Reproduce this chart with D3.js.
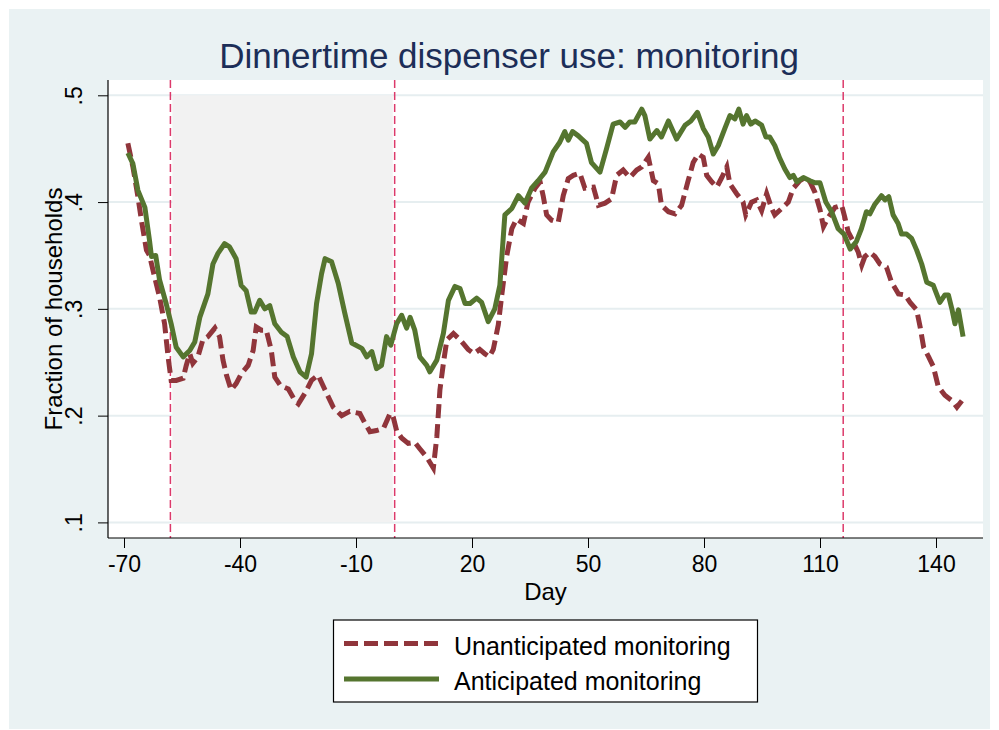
<!DOCTYPE html>
<html>
<head>
<meta charset="utf-8">
<script src="https://cdn.jsdelivr.net/npm/d3@7"></script>
<style>
  html, body { margin: 0; padding: 0; background: #ffffff; }
  svg { display: block; font-family: "Liberation Sans", Arial, Helvetica, sans-serif; }
</style>
</head>
<body>
<div id="chart"></div>
<script>
// values (day, fraction of households)
const unaDays = [-69, -67.7, -66.4, -65.5, -64.2, -63.4, -62.1, -60.8, -59.5, -58.6, -57.8, -56.5, -54.7, -53.9, -53, -52.2, -50.9, -49.6, -48.3, -46.5, -45.3, -44.4, -43.5, -42.3, -41, -39.7, -37.9, -36.6, -35.8, -34.5, -33.2, -31.9, -31, -29.5, -27.5, -25.8, -24.9, -23.2, -21.5, -19.8, -18, -15.9, -13.7, -11.6, -9, -7.7, -6.4, -4.7, -2.9, -1.2, -0.4, 0.5, 1.8, 3.5, 5.2, 6.5, 8.3, 10, 10.9, 11.7, 12.6, 13.5, 15.2, 16.9, 19, 20.5, 22, 23.3, 24.5, 25.5, 26.8, 27.7, 29, 30.3, 31.5, 33.3, 34.5, 36.3, 37.6, 38.4, 39.3, 40.6, 42.3, 43.6, 44.9, 46.2, 47.9, 49.2, 51.4, 52.7, 54.4, 56.1, 57.4, 59.1, 60.8, 62.6, 63.9, 65.6, 66.9, 68.2, 69, 70.8, 72.5, 74.2, 75.9, 77.2, 78.5, 79.8, 80.7, 82, 83.3, 84.6, 85.9, 86.7, 88.4, 90.1, 90.8, 92.3, 93.6, 94.9, 96.2, 97.5, 98.3, 100.1, 101.8, 103.1, 104.8, 106.1, 107.4, 108.7, 110, 110.9, 112.2, 113.9, 115.6, 116.4, 117.3, 118.6, 119.9, 120.8, 121.6, 122.9, 124.2, 125.5, 127.2, 128.5, 130.3, 132, 133.3, 135, 135.9, 136.8, 138.1, 139.3, 140.6, 142.3, 144.1, 145.4, 146.7];
const unaVals = [.455, .433, .405, .383, .355, .350, .330, .311, .286, .255, .233, .233, .235, .247, .258, .249, .255, .271, .274, .282, .274, .252, .238, .224, .230, .239, .247, .261, .283, .280, .280, .261, .236, .228, .225, .214, .211, .221, .233, .238, .224, .208, .200, .204, .202, .193, .185, .186, .188, .202, .199, .186, .179, .174, .175, .169, .161, .151, .180, .224, .249, .271, .277, .271, .262, .258, .262, .258, .255, .262, .285, .313, .350, .375, .384, .380, .400, .413, .419, .406, .388, .383, .381, .406, .422, .425, .427, .413, .414, .397, .399, .403, .425, .430, .423, .430, .433, .442, .420, .417, .397, .391, .389, .397, .420, .437, .445, .442, .425, .419, .414, .423, .433, .417, .408, .400, .388, .400, .402, .392, .408, .394, .388, .394, .400, .413, .420, .423, .419, .409, .393, .377, .386, .395, .397, .386, .372, .363, .353, .341, .349, .353, .349, .342, .339, .325, .314, .313, .306, .299, .283, .264, .255, .246, .227, .219, .214, .208, .214];

const antDays = [-69, -67.7, -66.4, -64.6, -63.4, -62.9, -61.8, -60.8, -59.1, -57.8, -56.5, -54.7, -53, -51.7, -50.4, -48.3, -47, -45.7, -44, -42.7, -41, -39.7, -38.4, -37.1, -36.2, -34.9, -33.6, -32.3, -31, -29.3, -27.8, -26.2, -24.5, -22.9, -21.5, -20.2, -18.9, -18, -16.3, -14.6, -12.9, -11.1, -8.5, -7.2, -5.9, -4.7, -3.4, -2.1, -1, 0.5, 1.8, 3.1, 4, 5.2, 6.5, 8.3, 9.1, 10.9, 12.6, 13.9, 15.6, 16.9, 18.2, 19.5, 21.2, 22.5, 24.2, 25.9, 27.2, 28.5, 30.3, 32, 33.7, 35.4, 37.1, 38.9, 41, 42.7, 44, 44.9, 46, 47.5, 48.4, 49.6, 50.9, 53.1, 54.8, 56.5, 58.3, 59.6, 60.8, 62.1, 63.9, 64.7, 66, 67.8, 69, 70.8, 72.9, 75.1, 76.6, 78.3, 79.8, 81.1, 82.4, 83.7, 85.4, 86.7, 88, 89, 90.1, 91, 92.1, 93.2, 94.9, 96, 97, 98.3, 99.6, 100.9, 102.2, 103.1, 104, 105.7, 107.4, 108.7, 110, 111.5, 113, 114.7, 116.2, 117.8, 119.4, 120.7, 122, 122.9, 124.2, 125.9, 126.8, 127.8, 128.9, 130.2, 131.1, 132.4, 133.7, 135, 136.3, 137.6, 139.3, 141, 142.3, 143.2, 144.1, 144.9, 145.8, 147];
const antVals = [.446, .436, .411, .395, .364, .349, .350, .327, .305, .286, .264, .255, .261, .269, .292, .314, .342, .352, .361, .358, .347, .322, .317, .297, .297, .308, .300, .303, .286, .278, .274, .255, .241, .236, .258, .305, .333, .347, .344, .324, .296, .268, .263, .255, .260, .244, .247, .274, .266, .286, .294, .282, .292, .280, .255, .247, .241, .252, .277, .308, .321, .319, .305, .305, .310, .306, .288, .300, .322, .388, .394, .406, .399, .413, .420, .428, .447, .456, .466, .458, .466, .462, .459, .455, .437, .428, .450, .473, .475, .470, .475, .475, .487, .481, .459, .467, .461, .476, .459, .472, .476, .484, .469, .461, .445, .453, .469, .481, .478, .487, .473, .481, .473, .476, .472, .461, .461, .453, .441, .431, .423, .425, .419, .423, .420, .418, .418, .400, .391, .375, .370, .356, .363, .375, .391, .389, .398, .406, .402, .405, .388, .380, .370, .370, .366, .355, .342, .325, .322, .306, .313, .313, .300, .286, .299, .274];

const xTicks = [-70, -40, -10, 20, 50, 80, 110, 140];
const yTicks = [0.1, 0.2, 0.3, 0.4, 0.5];
const yTickLabels = [".1", ".2", ".3", ".4", ".5"];
const eventDays = [-58, 0, 116];
const shadeDays = [-57.5, -0.5];
const shadeVals = [0.1, 0.5];
const seriesNames = ["Unanticipated monitoring", "Anticipated monitoring"];

const W = 999, H = 730;
const pLeft = 108, pRight = 983, pTop = 80, pBottom = 538;

const svg = d3.select('#chart').append('svg')
  .attr('width', W).attr('height', H);

// outer panel
svg.append('rect').attr('x', 9).attr('y', 9).attr('width', 981).attr('height', 720)
  .attr('fill', '#eaf2f3');
svg.append('rect').attr('x', pLeft).attr('y', pTop).attr('width', pRight - pLeft).attr('height', pBottom - pTop)
  .attr('fill', '#ffffff');

const x = d3.scaleLinear().domain([-70, 140]).range([124, 936]);
const y = d3.scaleLinear().domain([0.1, 0.5]).range([522.4, 95.3]);

// grid
svg.append('g').selectAll('line').data(yTicks).enter().append('line')
  .attr('x1', pLeft).attr('x2', pRight)
  .attr('y1', d => y(d)).attr('y2', d => y(d))
  .attr('stroke', '#e6eef0').attr('stroke-width', 2);

// shaded pre-period
svg.append('rect')
  .attr('x', x(shadeDays[0])).attr('width', x(shadeDays[1]) - x(shadeDays[0]))
  .attr('y', y(shadeVals[1])).attr('height', y(shadeVals[0]) - y(shadeVals[1]))
  .attr('fill', '#f2f2f2');

// event lines
svg.append('g').selectAll('line').data(eventDays).enter().append('line')
  .attr('x1', d => x(d)).attr('x2', d => x(d))
  .attr('y1', pTop).attr('y2', pBottom)
  .attr('stroke', '#dc3a6b').attr('stroke-width', 1.5)
  .attr('stroke-dasharray', '8,4');

const line = d3.line().x(d => x(d[0])).y(d => y(d[1]));

svg.append('path')
  .datum(unaDays.map((d, i) => [d, unaVals[i]]))
  .attr('fill', 'none').attr('stroke', '#90353b').attr('stroke-width', 5)
  .attr('stroke-dasharray', '14,6')
  .attr('d', line);

svg.append('path')
  .datum(antDays.map((d, i) => [d, antVals[i]]))
  .attr('fill', 'none').attr('stroke', '#55752f').attr('stroke-width', 5)
  .attr('stroke-linejoin', 'round')
  .attr('d', line);

// axes
const xAxis = svg.append('g')
  .attr('transform', `translate(0,${pBottom})`)
  .call(d3.axisBottom(x).tickValues(xTicks).tickSize(10).tickPadding(8).tickSizeOuter(0)
    .tickFormat(d => String(d)));
xAxis.select('.domain').remove();
xAxis.selectAll('line').attr('stroke', '#000');
xAxis.selectAll('text').attr('fill', '#000').style('font-size', '23px')
  .style('font-family', '"Liberation Sans", Arial, sans-serif');

const yAxis = svg.append('g')
  .attr('transform', `translate(${pLeft},0)`)
  .call(d3.axisLeft(y).tickValues(yTicks).tickSize(10).tickFormat((d, i) => yTickLabels[i]));
yAxis.select('.domain').remove();
yAxis.selectAll('line').attr('stroke', '#000');
yAxis.selectAll('text')
  .attr('transform', 'rotate(-90)')
  .attr('x', 0).attr('y', -26).attr('dy', 0)
  .attr('fill', '#000')
  .style('text-anchor', 'middle')
  .style('font-size', '23px')
  .style('font-family', '"Liberation Sans", Arial, sans-serif');

svg.append('line').attr('x1', pLeft).attr('x2', pLeft).attr('y1', pTop).attr('y2', pBottom)
  .attr('stroke', '#000').attr('stroke-width', 1.2);
svg.append('line').attr('x1', pLeft).attr('x2', pRight).attr('y1', pBottom).attr('y2', pBottom)
  .attr('stroke', '#000').attr('stroke-width', 1.2);

// titles
svg.append('text').attr('x', 509).attr('y', 67.5)
  .style('text-anchor', 'middle').style('font-size', '35px').attr('fill', '#1c2e58')
  .text('Dinnertime dispenser use: monitoring');

svg.append('text').attr('x', (pLeft + pRight) / 2).attr('y', 600)
  .style('text-anchor', 'middle').style('font-size', '24px').attr('fill', '#000')
  .text('Day');

svg.append('text').attr('transform', `translate(62,${(pTop + pBottom) / 2}) rotate(-90)`)
  .style('text-anchor', 'middle').style('font-size', '24px').attr('fill', '#000')
  .text('Fraction of households');

// legend
const lg = svg.append('g');
lg.append('rect').attr('x', 333.5).attr('y', 620).attr('width', 424).attr('height', 82)
  .attr('fill', '#fff').attr('stroke', '#000').attr('stroke-width', 1.2);
lg.append('line').attr('x1', 344).attr('x2', 439).attr('y1', 643.5).attr('y2', 643.5)
  .attr('stroke', '#90353b').attr('stroke-width', 5).attr('stroke-dasharray', '14,6');
lg.append('line').attr('x1', 344).attr('x2', 439).attr('y1', 679).attr('y2', 679)
  .attr('stroke', '#55752f').attr('stroke-width', 5);
lg.append('text').attr('x', 454).attr('y', 654.5).style('font-size', '25px').attr('fill', '#000')
  .text(seriesNames[0]);
lg.append('text').attr('x', 454).attr('y', 689.5).style('font-size', '25px').attr('fill', '#000')
  .text(seriesNames[1]);
</script>
</body>
</html>
